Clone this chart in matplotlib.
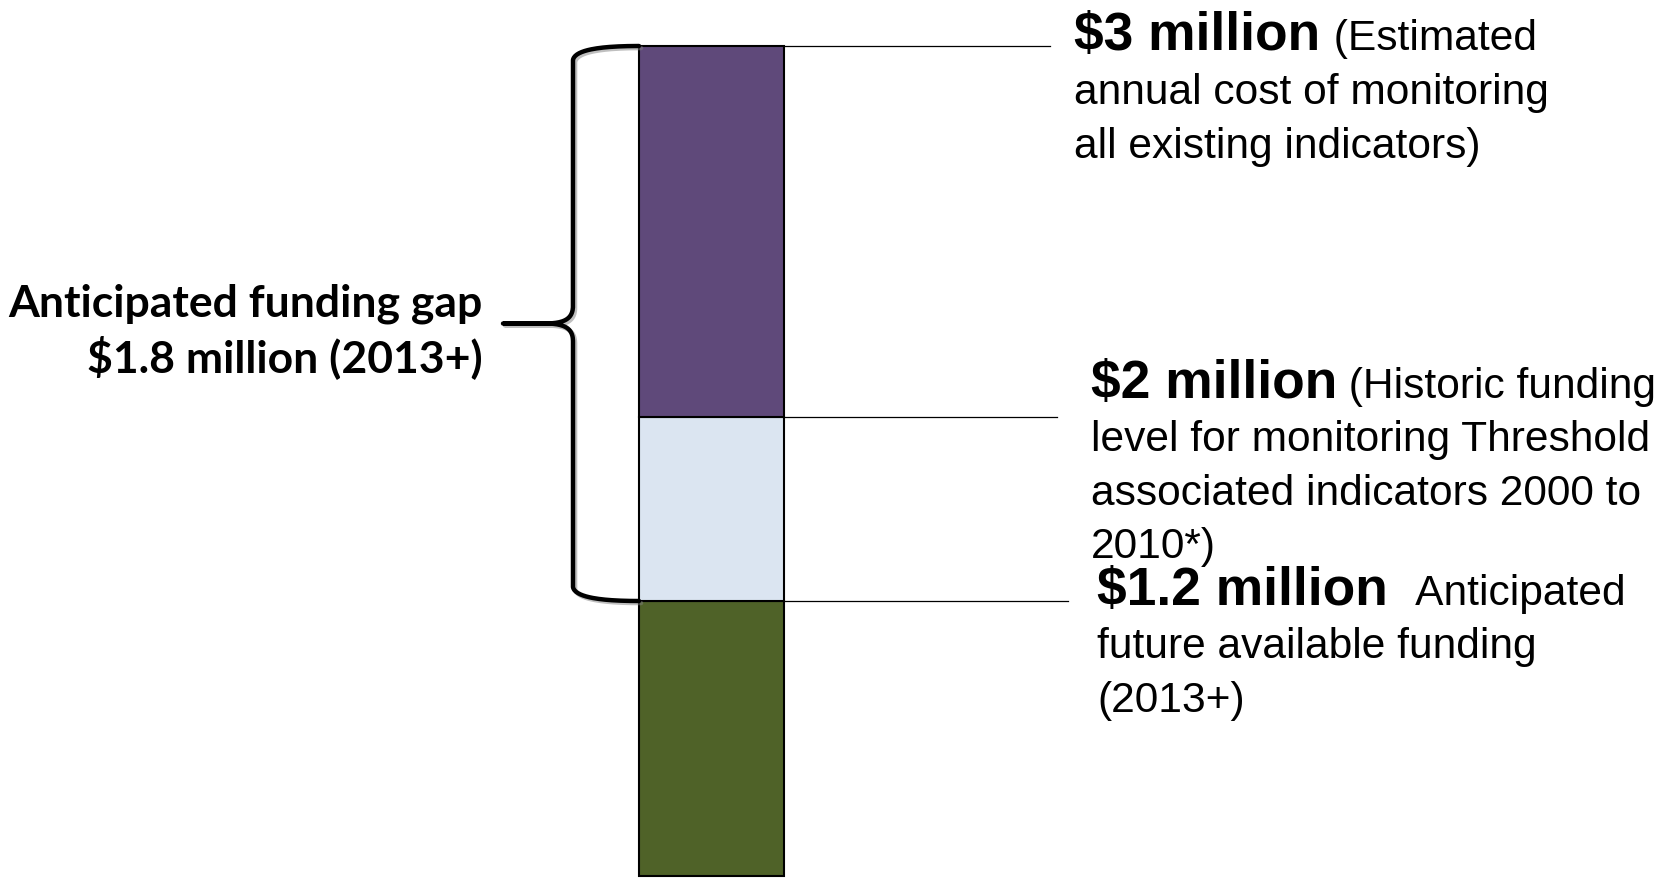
import numpy as np
import matplotlib
matplotlib.use("Agg")
import matplotlib.pyplot as plt
from matplotlib import patheffects as pe

# ---------------- data (US$ million) ----------------
levels = [0.0, 1.2, 2.0, 3.0]          # stacked segment boundaries
segment_names = ["Anticipated future available funding",
                 "Historic funding level",
                 "Estimated annual cost"]
segment_colors = ["#4F6228", "#DBE5F1", "#5F497A"]

gap_lines = ["Anticipated funding gap", "$1.8 million (2013+)"]
gap_range = [1.2, 3.0]

level_values = [3.0, 2.0, 1.2]
level_bold = ["$3 million", "$2 million", "$1.2 million"]
level_first = [" (Estimated", " (Historic funding", "  Anticipated"]
level_rest = [["annual cost of monitoring", "all existing indicators)"],
              ["level for monitoring Threshold", "associated indicators 2000 to", "2010*)"],
              ["future available funding", "(2013+)"]]

# ---------------- figure ----------------
W, H = 1672, 880
fig = plt.figure(figsize=(W / 100, H / 100), dpi=100)
fig.patch.set_facecolor("white")

# schematic (non-proportional) vertical scale, as in the original diagram
disp = [0, 275, 459, 830]
def fwd(y):
    return np.interp(y, levels, disp)
def inv(u):
    return np.interp(u, disp, levels)

ax = fig.add_axes([0, 4 / H, 1, 830 / H])
ax.set_yscale("function", functions=(fwd, inv))
ax.set_xlim(0, W)
ax.set_ylim(levels[0], levels[-1])
ax.axis("off")

bar_x, bar_w = 711.5, 145
bottoms = levels[:-1]
heights = np.diff(levels)
ax.bar([bar_x] * len(heights), heights, bottom=bottoms, width=bar_w,
       color=segment_colors, edgecolor="black", linewidth=1.5, clip_on=False, zorder=3)

# leader lines
bar_right = bar_x + bar_w / 2
line_ends = [1050, 1057, 1068]
for v, xe in zip(level_values, line_ends):
    ax.plot([bar_right, xe], [v, v], color="black", lw=0.9, clip_on=False, zorder=2)

# curly brace spanning the funding gap
def bez(p0, p1, p2, p3, n=40):
    t = np.linspace(0, 1, n)[:, None]
    p0, p1, p2, p3 = map(np.asarray, (p0, p1, p2, p3))
    return (1 - t) ** 3 * p0 + 3 * (1 - t) ** 2 * t * p1 + 3 * (1 - t) * t ** 2 * p2 + t ** 3 * p3

u_top, u_bot = fwd(gap_range[1]), fwd(gap_range[0])
u_mid = (u_top + u_bot) / 2
tip_x = bar_x - bar_w / 2
sp_x, cusp_x = 573, 503
pts = np.vstack([
    bez((tip_x, u_top), (610, u_top), (575, u_top - 2), (sp_x, u_top - 14)),
    bez((sp_x, u_mid + 18), (sp_x, u_mid + 5), (565, u_mid), (545, u_mid)),
    [[cusp_x, u_mid]],
    [[545, u_mid]],
    bez((545, u_mid), (565, u_mid), (sp_x, u_mid - 5), (sp_x, u_mid - 18)),
    bez((sp_x, u_bot + 14), (575, u_bot + 2), (610, u_bot), (tip_x, u_bot)),
])
ax.plot(pts[:, 0], inv(pts[:, 1]), color="black", lw=3.2, clip_on=False,
        solid_capstyle="round", solid_joinstyle="round", zorder=4,
        path_effects=[pe.SimpleLineShadow(offset=(1.5, -1.5), shadow_color="gray", alpha=0.5),
                      pe.Normal()])

# ---------------- text overlay (pixel coords, top-down) ----------------
ov = fig.add_axes([0, 0, 1, 1])
ov.set_xlim(0, W)
ov.set_ylim(H, 0)
ov.axis("off")

left_font = "Lato"
for line, yb in zip(gap_lines, [316, 372]):
    ov.text(483, yb, line, ha="right", va="baseline", fontsize=32,
            fontweight="bold", family=left_font, parse_math=False)

rfont = "Liberation Sans"
block_x = [1074, 1091, 1097]
block_y0 = [50, 398, 605]
steps = [53.8, 53.3, 53.3]
first_pad = [1.5, 0, 4.5]   # extra gap (points) after the bold amount
for bx, by, st, pad, b, f, rest in zip(block_x, block_y0, steps, first_pad,
                                        level_bold, level_first, level_rest):
    tb = ov.text(bx, by, b, ha="left", va="baseline", fontsize=38.4,
                 fontweight="bold", family=rfont, parse_math=False)
    ov.annotate(f, xy=(1, by), xycoords=(tb, ov.transData),
                xytext=(pad, 0), textcoords="offset points",
                ha="left", va="baseline", fontsize=30.6, family=rfont, parse_math=False)
    for i, line in enumerate(rest):
        ov.text(bx, by + st * (i + 1), line, ha="left", va="baseline",
                fontsize=30.6, family=rfont, parse_math=False)

fig.savefig("out.png", dpi=100, facecolor="white")
